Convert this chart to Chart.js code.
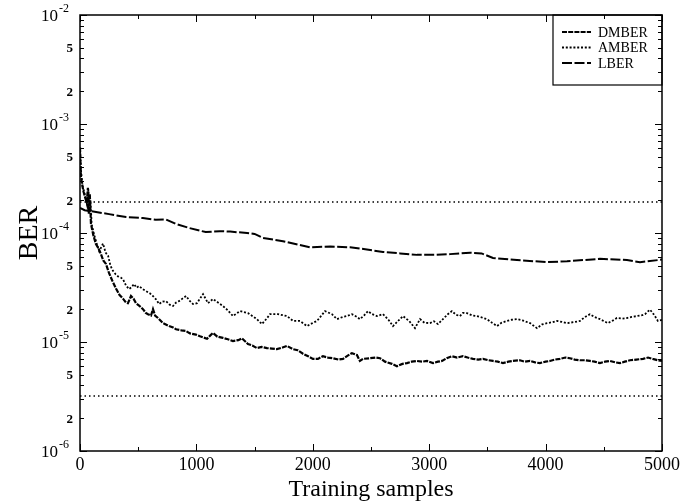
<!DOCTYPE html>
<html>
<head>
<meta charset="utf-8">
<script src="https://cdn.jsdelivr.net/npm/chart.js@4.4.1/dist/chart.umd.min.js"></script>
<style>
  html, body { margin: 0; padding: 0; background: #fff; }
  canvas { display: block; }
</style>
</head>
<body>
<canvas id="berChart" width="696" height="504"></canvas>
<script>
// Оси
const xTicks = [0, 500, 1000, 1500, 2000, 2500, 3000, 3500, 4000, 4500, 5000];
const xLabels = [0, 1000, 2000, 3000, 4000, 5000];
const yDecades = [1e-6, 1e-5, 1e-4, 1e-3, 1e-2];
const yMantissas = [2, 3, 4, 5, 6, 7, 8, 9];
const yLabelledMantissas = [2, 5];

// DMBER
const dmberX = [0, 8, 18, 30, 45, 58, 68, 76, 84, 94, 115, 137, 160, 180, 200, 223, 249, 280, 309, 340,
  369, 395, 412, 438, 460, 481, 510, 541, 565, 584, 610, 627, 645, 670, 713, 765, 800, 825, 870, 911,
  945, 996, 1031, 1091, 1120, 1142, 1180, 1228, 1270, 1314, 1360, 1392, 1443, 1480, 1520, 1560, 1606, 1650, 1692, 1740,
  1778, 1830, 1870, 1916, 1960, 2001, 2044, 2087, 2130, 2173, 2220, 2259, 2300, 2336, 2379, 2405, 2431, 2491, 2540, 2577,
  2620, 2680, 2723, 2770, 2809, 2850, 2895, 2940, 2981, 3032, 3075, 3110, 3150, 3195, 3240, 3290, 3330, 3376, 3420, 3462,
  3510, 3548, 3590, 3634, 3680, 3719, 3780, 3820, 3866, 3910, 3951, 4000, 4037, 4080, 4123, 4170, 4209, 4250, 4295, 4340,
  4381, 4420, 4467, 4510, 4553, 4600, 4639, 4680, 4725, 4780, 4837, 4880, 4920, 4965, 5000];
const dmberY = [6.1e-4, 3.3e-4, 2.8e-4, 2.4e-4, 2.1e-4, 1.9e-4, 2.6e-4, 1.5e-4, 2.3e-4, 1.22e-4, 9.5e-5, 7.9e-5, 7.2e-5, 6.4e-5, 5.6e-5, 5.2e-5, 4.3e-5, 3.6e-5, 3.1e-5, 2.7e-5,
  2.5e-5, 2.3e-5, 2.27e-5, 2.64e-5, 2.5e-5, 2.27e-5, 2.15e-5, 2.0e-5, 1.85e-5, 1.8e-5, 1.75e-5, 2.0e-5, 1.75e-5, 1.66e-5, 1.49e-5, 1.4e-5, 1.36e-5, 1.31e-5, 1.28e-5, 1.26e-5,
  1.2e-5, 1.17e-5, 1.13e-5, 1.07e-5, 1.15e-5, 1.21e-5, 1.12e-5, 1.09e-5, 1.06e-5, 1.02e-5, 1.04e-5, 1.08e-5, 9.6e-6, 9.3e-6, 8.8e-6, 9.0e-6, 8.8e-6, 8.7e-6, 8.6e-6, 8.9e-6,
  9.2e-6, 8.6e-6, 8.4e-6, 7.8e-6, 7.4e-6, 7.0e-6, 7.0e-6, 7.4e-6, 7.2e-6, 7.1e-6, 6.9e-6, 7.0e-6, 7.5e-6, 7.9e-6, 7.6e-6, 6.7e-6, 7.0e-6, 7.1e-6, 7.2e-6, 7.1e-6,
  6.6e-6, 6.3e-6, 6.0e-6, 6.3e-6, 6.4e-6, 6.6e-6, 6.7e-6, 6.6e-6, 6.7e-6, 6.4e-6, 6.6e-6, 6.7e-6, 7.1e-6, 7.4e-6, 7.2e-6, 7.4e-6, 7.2e-6, 7.0e-6, 6.9e-6, 7.0e-6,
  6.8e-6, 6.7e-6, 6.6e-6, 6.4e-6, 6.6e-6, 6.7e-6, 6.8e-6, 6.6e-6, 6.7e-6, 6.5e-6, 6.4e-6, 6.6e-6, 6.7e-6, 6.9e-6, 7.0e-6, 7.2e-6, 7.1e-6, 6.9e-6, 6.8e-6, 6.8e-6,
  6.7e-6, 6.6e-6, 6.4e-6, 6.6e-6, 6.7e-6, 6.5e-6, 6.4e-6, 6.6e-6, 6.8e-6, 6.9e-6, 7.0e-6, 7.2e-6, 7.0e-6, 6.8e-6, 6.7e-6];

// AMBER
const amberX = [0, 10, 22, 35, 50, 62, 72, 82, 90, 100, 120, 140, 165, 185, 198, 220, 241, 262, 283, 305,
  326, 350, 369, 395, 421, 445, 464, 485, 507, 540, 567, 600, 627, 655, 679, 710, 739, 770, 799, 825,
  850, 880, 911, 945, 971, 1005, 1057, 1100, 1142, 1228, 1270, 1314, 1374, 1443, 1520, 1563, 1606, 1632, 1701, 1778,
  1830, 1890, 1950, 2001, 2036, 2105, 2165, 2208, 2259, 2294, 2336, 2379, 2405, 2440, 2474, 2510, 2551, 2603, 2650, 2689,
  2730, 2775, 2830, 2878, 2921, 2960, 3007, 3040, 3075, 3118, 3160, 3195, 3230, 3264, 3290, 3324, 3370, 3410, 3450, 3496,
  3540, 3582, 3620, 3668, 3710, 3754, 3800, 3866, 3926, 3970, 4012, 4060, 4097, 4140, 4184, 4240, 4295, 4340, 4381, 4420,
  4467, 4535, 4580, 4613, 4660, 4699, 4740, 4785, 4830, 4854, 4896, 4920, 4939, 4965, 5000];
const amberY = [5.6e-4, 3.6e-4, 2.7e-4, 2.4e-4, 2.1e-4, 1.8e-4, 2.5e-4, 1.55e-4, 2.0e-4, 1.2e-4, 9.8e-5, 8.2e-5, 6.8e-5, 7.5e-5, 8.0e-5, 6.6e-5, 6.2e-5, 5.0e-5, 4.5e-5, 4.2e-5,
  4.0e-5, 3.9e-5, 3.77e-5, 3.3e-5, 3.06e-5, 3.2e-5, 3.4e-5, 3.15e-5, 3.26e-5, 3.05e-5, 2.93e-5, 2.8e-5, 2.64e-5, 2.45e-5, 2.23e-5, 2.35e-5, 2.37e-5, 2.2e-5, 2.14e-5, 2.3e-5,
  2.37e-5, 2.5e-5, 2.64e-5, 2.37e-5, 2.23e-5, 2.27e-5, 2.75e-5, 2.27e-5, 2.48e-5, 2.14e-5, 1.95e-5, 1.73e-5, 1.92e-5, 1.84e-5, 1.62e-5, 1.46e-5, 1.65e-5, 1.8e-5, 1.8e-5, 1.73e-5,
  1.56e-5, 1.56e-5, 1.4e-5, 1.5e-5, 1.56e-5, 1.92e-5, 1.8e-5, 1.62e-5, 1.7e-5, 1.73e-5, 1.8e-5, 1.7e-5, 1.62e-5, 1.75e-5, 1.92e-5, 1.8e-5, 1.73e-5, 1.8e-5, 1.6e-5, 1.4e-5,
  1.55e-5, 1.73e-5, 1.55e-5, 1.34e-5, 1.62e-5, 1.5e-5, 1.49e-5, 1.55e-5, 1.46e-5, 1.62e-5, 1.8e-5, 1.92e-5, 1.78e-5, 1.73e-5, 1.85e-5, 1.84e-5, 1.75e-5, 1.73e-5, 1.68e-5, 1.62e-5,
  1.5e-5, 1.4e-5, 1.5e-5, 1.56e-5, 1.6e-5, 1.62e-5, 1.58e-5, 1.49e-5, 1.34e-5, 1.45e-5, 1.49e-5, 1.52e-5, 1.56e-5, 1.53e-5, 1.49e-5, 1.52e-5, 1.56e-5, 1.7e-5, 1.8e-5, 1.7e-5,
  1.62e-5, 1.49e-5, 1.58e-5, 1.66e-5, 1.64e-5, 1.66e-5, 1.7e-5, 1.73e-5, 1.76e-5, 1.8e-5, 1.98e-5, 1.85e-5, 1.73e-5, 1.56e-5, 1.6e-5];

// LBER
const lberX = [0, 40, 86, 250, 395, 540, 650, 740, 825, 940, 1080, 1200, 1290, 1435, 1500, 1572, 1718, 1744, 1976, 2150,
  2320, 2450, 2603, 2750, 2895, 3050, 3179, 3351, 3450, 3548, 3754, 4012, 4184, 4467, 4699, 4811, 5000];
const lberY = [1.7e-4, 1.62e-4, 1.59e-4, 1.49e-4, 1.4e-4, 1.37e-4, 1.32e-4, 1.33e-4, 1.21e-4, 1.11e-4, 1.02e-4, 1.04e-4, 1.03e-4, 1.0e-4, 9.8e-5, 9.0e-5, 8.5e-5, 8.4e-5, 7.4e-5, 7.5e-5,
  7.4e-5, 7.1e-5, 6.7e-5, 6.5e-5, 6.3e-5, 6.3e-5, 6.4e-5, 6.6e-5, 6.5e-5, 5.9e-5, 5.65e-5, 5.4e-5, 5.5e-5, 5.8e-5, 5.65e-5, 5.4e-5, 5.7e-5];

// Горизонтальные уровни (пунктир)
const levelX = [0, 5000];
const upperLevel = 1.92e-4;
const lowerLevel = 3.2e-6;

const FONT = "'Liberation Serif', 'Times New Roman', serif";

function toPoints(xs, ys) {
  return xs.map((x, i) => ({ x: x, y: ys[i] }));
}

const yTickValues = [];
yDecades.forEach((d, i) => {
  yTickValues.push(d);
  if (i < yDecades.length - 1) yMantissas.forEach(m => yTickValues.push(m * d));
});

// Рамка, засечки внутрь, подписи оси Y и легенда
const framePlugin = {
  id: 'framePlugin',
  afterDraw(chart) {
    const ctx = chart.ctx;
    const a = chart.chartArea;
    const xs = chart.scales.x;
    const ys = chart.scales.y;
    ctx.save();
    ctx.strokeStyle = '#000';
    ctx.lineWidth = 1.5;
    ctx.setLineDash([]);
    ctx.strokeRect(a.left, a.top, a.right - a.left, a.bottom - a.top);

    ctx.lineWidth = 1;
    ctx.beginPath();
    yTickValues.forEach(v => {
      const y = Math.round(ys.getPixelForValue(v)) + 0.5;
      const len = yDecades.includes(v) ? 7 : 4;
      ctx.moveTo(a.left, y); ctx.lineTo(a.left + len, y);
      ctx.moveTo(a.right, y); ctx.lineTo(a.right - len, y);
    });
    xTicks.forEach(v => {
      const x = Math.round(xs.getPixelForValue(v)) + 0.5;
      const len = xLabels.includes(v) ? 7 : 4;
      ctx.moveTo(x, a.bottom); ctx.lineTo(x, a.bottom - len);
      ctx.moveTo(x, a.top); ctx.lineTo(x, a.top + len);
    });
    ctx.stroke();

    // подписи Y: 10^n и 2, 5
    ctx.fillStyle = '#000';
    ctx.textBaseline = 'middle';
    yDecades.forEach(v => {
      const y = ys.getPixelForValue(v);
      const exp = Math.round(Math.log10(v));
      ctx.font = '17px ' + FONT;
      ctx.textAlign = 'right';
      ctx.fillText('10', a.left - 22, y + 2);
      ctx.font = '12px ' + FONT;
      ctx.textAlign = 'left';
      ctx.fillText('-' + Math.abs(exp), a.left - 21, y - 6);
    });
    ctx.font = 'bold 13px ' + FONT;
    ctx.textAlign = 'right';
    yDecades.slice(0, -1).forEach(d => {
      yLabelledMantissas.forEach(m => {
        ctx.fillText(String(m), a.left - 7, ys.getPixelForValue(m * d) + 1);
      });
    });

    // легенда
    const bw = 109, bh = 70;
    const bx = a.right - bw, by = a.top;
    ctx.lineWidth = 1.2;
    ctx.strokeRect(bx, by, bw, bh);
    ctx.font = '14px ' + FONT;
    ctx.textAlign = 'left';
    chart.data.datasets.slice(0, 3).forEach((ds, i) => {
      const ly = by + 17 + i * 15.5;
      ctx.beginPath();
      ctx.lineWidth = ds.borderWidth;
      ctx.setLineDash(ds.borderDash || []);
      ctx.moveTo(bx + 9, ly);
      ctx.lineTo(bx + 38, ly);
      ctx.stroke();
      ctx.setLineDash([]);
      ctx.fillText(ds.label, bx + 45, ly + 1);
    });
    ctx.restore();
  }
};

new Chart(document.getElementById('berChart'), {
  type: 'line',
  data: {
    datasets: [
      { label: 'DMBER', data: toPoints(dmberX, dmberY), borderColor: '#000', borderWidth: 2.2, borderDash: [5, 1.2] },
      { label: 'AMBER', data: toPoints(amberX, amberY), borderColor: '#000', borderWidth: 1.8, borderDash: [2, 1.8] },
      { label: 'LBER', data: toPoints(lberX, lberY), borderColor: '#000', borderWidth: 2, borderDash: [10, 2.5] },
      { label: 'upper level', data: toPoints(levelX, [upperLevel, upperLevel]), borderColor: '#000', borderWidth: 1.5, borderDash: [1.5, 3] },
      { label: 'lower level', data: toPoints(levelX, [lowerLevel, lowerLevel]), borderColor: '#000', borderWidth: 1.5, borderDash: [1.5, 3] }
    ]
  },
  options: {
    responsive: false,
    devicePixelRatio: 1,
    animation: false,
    elements: { point: { radius: 0 }, line: { tension: 0, fill: false } },
    layout: { padding: { top: 15, right: 34, left: 0, bottom: 0 } },
    plugins: { legend: { display: false }, tooltip: { enabled: false } },
    scales: {
      x: {
        type: 'linear',
        min: 0,
        max: 5000,
        afterBuildTicks: s => { s.ticks = xTicks.map(v => ({ value: v })); },
        afterFit: s => { s.height = 53; },
        ticks: {
          autoSkip: false,
          maxRotation: 0,
          padding: 3,
          color: '#000',
          font: { family: FONT, size: 18 },
          callback: v => xLabels.includes(v) ? String(v) : ''
        },
        grid: { display: false, drawTicks: false },
        border: { display: false },
        title: {
          display: true,
          text: 'Training samples',
          color: '#000',
          font: { family: FONT, size: 24 },
          padding: { top: 0, bottom: 0 }
        }
      },
      y: {
        type: 'logarithmic',
        min: 1e-6,
        max: 1e-2,
        afterBuildTicks: s => { s.ticks = yTickValues.map(v => ({ value: v, major: yDecades.includes(v) })); },
        afterFit: s => { s.width = 80; },
        ticks: { display: false },
        grid: { display: false, drawTicks: false },
        border: { display: false },
        title: {
          display: true,
          text: 'BER',
          color: '#000',
          font: { family: FONT, size: 28 },
          padding: { top: 13, bottom: 0 }
        }
      }
    }
  },
  plugins: [framePlugin]
});
</script>
</body>
</html>
